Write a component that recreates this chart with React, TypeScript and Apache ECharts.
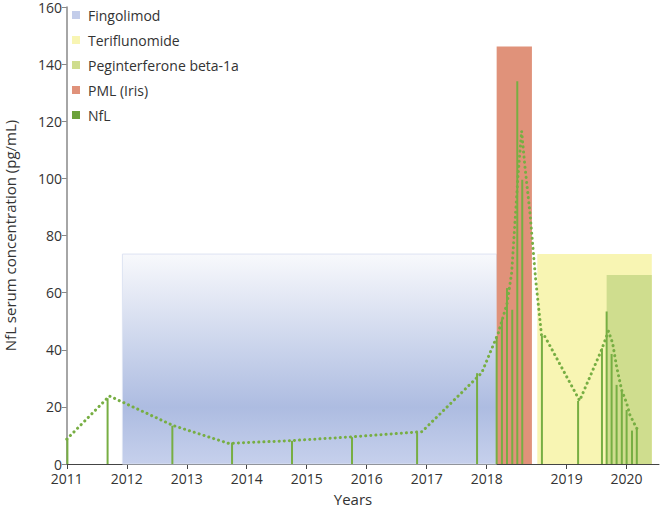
import React, { useEffect, useRef } from "react";
import * as echarts from "echarts";

// NfL measurements (decimal years) and values (pg/mL)
const nflDates = [2011.01, 2011.68, 2012.76, 2013.755, 2014.755, 2015.755, 2016.84, 2017.84,
  2018.125, 2018.191, 2018.254, 2018.32, 2018.383, 2018.445,
  2018.691, 2019.191, 2019.589, 2019.667, 2019.75, 2019.833, 2019.92, 2020.0, 2020.09, 2020.17];
const nflValues = [9, 23, 13.4, 7.5, 8.1, 9.4, 11, 31.8,
  44.8, 50.7, 61.6, 54, 134, 99.5,
  44.8, 22.1, 40.5, 53.4, 38.5, 27.7, 25.3, 18.9, 11.7, 12.5];

// dotted trend line
const trendDates = [2011.0, 2011.71, 2012.77, 2013.7, 2014.75, 2015.75, 2016.92, 2017.917,
  2018.145, 2018.257, 2018.313, 2018.362, 2018.395, 2018.437, 2018.479, 2018.541, 2018.613, 2018.688,
  2018.729, 2019.217, 2019.583, 2019.697, 2019.767, 2019.833, 2019.917, 2020.0, 2020.055, 2020.167, 2020.238];
const trendValues = [8.7, 23.8, 13.5, 7.2, 8.2, 9.5, 11.3, 31.9,
  45.8, 56.4, 67, 88, 102, 116.5, 104, 88, 64.5, 44.6,
  44.6, 22.2, 40, 46.5, 42.3, 34.1, 25.9, 21.3, 17.2, 12.5, 12.1];

// treatment periods: [start, end, top]
const fingolimodPeriod = [2011.927, 2018.125, 73.5];
const pmlPeriod = [2018.125, 2018.566, 146.2];
const teriflunomidePeriod = [2018.633, 2020.42, 73.5];
const peginterferonePeriod = [2019.667, 2020.42, 66.2];

const yearTicks = [2011, 2012, 2013, 2014, 2015, 2016, 2017, 2018, 2019, 2020];

// axis is piecewise: only year 2018 is stretched to 4/3 of a normal year
const STRETCH = 4 / 3;
function axisPos(year: number): number {
  const u = year - 2011;
  if (u <= 7) return u;
  if (u <= 8) return 7 + (u - 7) * STRETCH;
  return 7 + STRETCH + (u - 8);
}
function posToYear(p: number): number {
  if (p <= 7) return 2011 + p;
  if (p <= 7 + STRETCH) return 2018 + (p - 7) / STRETCH;
  return 2019 + (p - 7 - STRETCH);
}

const GREEN = "#77ae43";
const FONT = "Open Sans";

export default function App() {
  const ref = useRef<HTMLDivElement>(null);
  useEffect(() => {
    if (!ref.current) return;
    const chart = echarts.init(ref.current, undefined, { renderer: "svg" });
    const fingGrad = new echarts.graphic.LinearGradient(0, 0, 0, 1, [
      { offset: 0, color: "#f8f9fc" },
      { offset: 0.73, color: "#adbce1" },
      { offset: 1, color: "#c6d0ec" },
    ]);
    const rectSeries = (name: string, period: number[], fill: any, z: number, stroke?: string) => ({
      name,
      type: "custom",
      z,
      itemStyle: { color: fill },
      data: [[axisPos(period[0]), axisPos(period[1]), period[2]]],
      encode: { x: [0, 1], y: 2 },
      renderItem: (_p: any, api: any) => {
        const a = api.coord([api.value(0), api.value(2)]);
        const b = api.coord([api.value(1), 0]);
        return {
          type: "rect",
          shape: { x: a[0], y: a[1], width: b[0] - a[0], height: b[1] - a[1] },
          style: { fill, stroke: stroke || "none", lineWidth: stroke ? 1 : 0 },
        };
      },
    });
    const option: any = {
      animation: false,
      textStyle: { fontFamily: FONT },
      grid: { left: 65, right: 2, top: 7, bottom: 44, containLabel: false, outerBoundsMode: "none" },
      legend: {
        orient: "vertical",
        left: 72,
        top: 8,
        padding: 0,
        itemWidth: 8,
        itemHeight: 8,
        itemGap: 11,
        icon: "rect",
        textStyle: { fontSize: 14, color: "#333", fontFamily: FONT, padding: [0, 0, 0, 3] },
        data: [
          { name: "Fingolimod", itemStyle: { color: "#c3cdea" } },
          { name: "Teriflunomide", itemStyle: { color: "#f8f5b3" } },
          { name: "Peginterferone beta-1a", itemStyle: { color: "#cfdd8e" } },
          { name: "PML (Iris)", itemStyle: { color: "#e0927a" } },
          { name: "NfL", itemStyle: { color: "#6ca23a" } },
        ],
      },
      xAxis: {
        type: "value",
        min: axisPos(2010.97),
        max: axisPos(2020.54),
        name: "Years",
        nameLocation: "middle",
        nameGap: 27,
        nameTextStyle: { fontSize: 15, color: "#333", fontFamily: FONT, padding: [0, 18, 0, 0] },
        splitLine: { show: false },
        axisLine: { lineStyle: { color: "#444", width: 1 } },
        axisTick: { show: true, length: 5, lineStyle: { color: "#444" }, customValues: yearTicks.map(axisPos) },
        axisLabel: {
          fontSize: 14,
          lineHeight: 14,
          color: "#333",
          margin: 7,
          fontFamily: FONT,
          customValues: yearTicks.map(axisPos),
          formatter: (v: number) => String(Math.round(posToYear(v))),
        },
      },
      yAxis: {
        type: "value",
        min: 0,
        max: 160,
        interval: 20,
        name: "NfL serum concentration (pg/mL)",
        nameLocation: "middle",
        nameGap: 48,
        nameTextStyle: { fontSize: 15, color: "#333", fontFamily: FONT },
        splitLine: { show: false },
        axisLine: { show: true, lineStyle: { color: "#888", width: 1.5 } },
        axisTick: { show: true, length: 5, lineStyle: { color: "#888" } },
        axisLabel: { fontSize: 14, lineHeight: 12, color: "#333", margin: 3, fontFamily: FONT },
      },
      series: [
        rectSeries("Fingolimod", fingolimodPeriod, fingGrad, 1, "#dde3f2"),
        rectSeries("PML (Iris)", pmlPeriod, "#e0927a", 1),
        rectSeries("Teriflunomide", teriflunomidePeriod, "#f8f5b3", 1),
        rectSeries("Peginterferone beta-1a", peginterferonePeriod, "#cfdd8e", 2),
        {
          name: "NfL",
          type: "bar",
          z: 3,
          barWidth: 2,
          itemStyle: { color: GREEN },
          data: nflDates.map((d, i) => [axisPos(d), nflValues[i]]),
        },
        {
          name: "trend",
          type: "line",
          z: 4,
          symbol: "none",
          lineStyle: { color: GREEN, width: 3, type: [0.1, 5], cap: "round" },
          data: trendDates.map((d, i) => [axisPos(d), trendValues[i]]),
        },
      ],
    };
    chart.setOption(option);
    return () => chart.dispose();
  }, []);
  return <div ref={ref} style={{ width: 661, height: 508, position: "absolute", left: 0, top: 0 }} />;
}
